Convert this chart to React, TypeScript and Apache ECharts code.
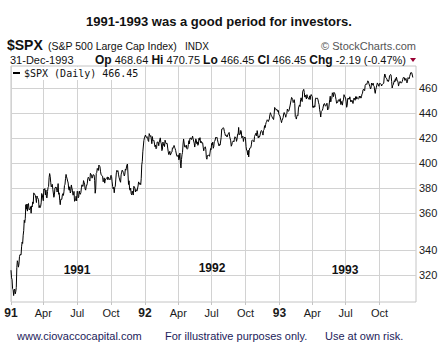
import React, { useEffect, useRef } from "react";
import * as echarts from "echarts";

// S&P 500 daily closes. Each row = one month, flat pairs of [day, close].
const spx1991: number[][] = [
  [2,326.45,3,321.91,4,321.00,7,315.44,8,314.90,9,311.49,10,314.53,11,315.23,14,312.49,15,313.73,16,316.17,17,327.97,18,332.23,21,331.06,22,328.31,23,330.21,24,334.78,25,336.07,28,336.03,29,335.84,30,340.91,31,343.93],
  [1,343.05,4,348.34,5,351.26,6,358.07,7,356.52,8,359.35,11,368.58,12,365.50,13,369.02,14,364.22,15,369.06,19,369.39,20,365.14,21,364.97,22,365.65,25,367.26,26,362.81,27,367.74,28,367.07],
  [1,370.47,4,369.33,5,376.72,6,376.17,7,375.91,8,374.95,11,372.96,12,370.03,13,374.57,14,373.50,15,373.59,18,372.11,19,366.59,20,367.92,21,366.58,22,367.48,25,369.83,26,376.30,27,375.35,28,375.22],
  [1,371.30,2,379.50,3,378.94,4,379.77,5,375.36,8,378.66,9,373.56,10,373.15,11,377.63,12,380.40,15,381.19,16,387.62,17,390.45,18,388.46,19,384.20,22,380.95,23,381.76,24,382.76,25,379.25,26,379.02,29,373.66,30,375.34],
  [1,380.29,2,380.52,3,380.80,6,380.08,7,377.32,8,378.51,9,383.25,10,375.74,13,376.76,14,371.62,15,368.57,16,372.19,17,372.39,20,372.28,21,375.35,22,376.19,23,374.96,24,377.49,28,381.94,29,382.79,30,386.96,31,389.83],
  [3,388.06,4,387.74,5,385.09,6,383.63,7,379.43,10,378.57,11,381.05,12,376.65,13,377.63,14,382.29,17,380.13,18,378.59,19,375.09,20,375.42,21,377.75,24,370.94,25,370.65,26,371.59,27,374.40,28,371.16],
  [1,377.92,2,377.47,3,373.33,5,374.08,8,377.94,9,376.11,10,375.74,11,376.97,12,380.25,15,382.39,16,381.54,17,381.18,18,385.37,19,384.22,22,382.88,23,379.42,24,378.64,25,380.96,26,380.93,29,383.15,30,386.69,31,387.81],
  [1,387.12,2,387.18,5,385.06,6,390.62,7,390.56,8,389.32,9,387.12,12,388.02,13,389.62,14,389.90,15,389.33,16,385.58,19,376.47,20,379.43,21,390.59,22,391.33,23,394.17,26,393.85,27,392.73,28,396.64,29,396.47,30,395.43],
  [3,392.15,4,389.97,5,389.14,6,389.10,9,388.57,10,384.56,11,385.09,12,387.34,13,383.59,16,385.78,17,385.50,18,386.94,19,387.56,20,387.92,23,385.92,24,387.71,25,386.88,26,386.49,27,385.90,30,387.86],
  [1,389.20,2,388.26,3,384.47,4,381.25,7,379.50,8,380.67,9,376.80,10,380.55,11,381.45,14,386.47,15,391.01,16,392.80,17,391.92,18,392.49,21,390.02,22,387.83,23,387.94,24,385.07,25,384.20,28,389.52,29,391.48,30,392.96,31,392.45],
  [1,391.32,4,390.28,5,388.71,6,389.97,7,393.72,8,392.89,11,393.12,12,396.74,13,397.41,14,397.15,15,382.62,18,385.24,19,379.42,20,378.53,21,380.06,22,376.14,25,375.34,26,377.96,27,376.55,29,375.22],
  [2,381.40,3,380.96,4,380.07,5,377.39,6,379.10,9,378.26,10,377.90,11,377.70,12,381.55,13,384.47,16,384.46,17,382.74,18,383.48,19,382.52,20,387.04,23,396.82,24,399.33,26,406.49,27,406.46,30,415.14,31,417.09],
];

const spx1992: number[][] = [
  [2,417.03,3,419.34,6,417.96,7,417.40,8,418.10,9,417.61,10,415.10,13,414.34,14,420.44,15,420.77,16,418.21,17,418.86,20,416.36,21,412.64,22,418.13,23,414.96,24,415.48,27,414.99,28,414.96,29,410.34,30,411.62,31,408.78],
  [3,409.53,4,413.85,5,413.84,6,413.82,7,411.09,10,413.77,11,413.76,12,417.13,13,413.69,14,412.48,18,407.38,19,408.26,20,413.90,21,411.43,24,412.27,25,410.45,26,415.35,27,413.86,28,412.70],
  [2,412.45,3,412.85,4,409.33,5,406.51,6,404.44,9,405.21,10,406.89,11,404.03,12,403.89,13,405.84,16,406.39,17,409.58,18,409.15,19,409.80,20,411.30,23,409.91,24,408.88,25,407.52,26,407.86,27,403.50,30,403.00,31,403.69],
  [1,404.23,2,400.50,3,401.55,6,405.59,7,398.06,8,394.50,9,400.64,10,404.29,13,406.08,14,412.39,15,416.28,16,416.04,20,410.18,21,410.26,22,410.13,23,411.60,24,409.02,27,408.45,28,409.11,29,412.02,30,414.95],
  [1,412.53,4,416.91,5,416.84,6,416.79,7,415.85,8,416.05,11,418.49,12,416.29,13,416.45,14,413.14,15,410.09,18,412.81,19,416.37,20,415.39,21,412.60,22,414.02,26,411.41,27,412.17,28,416.74,29,415.35],
  [1,417.30,2,413.50,3,414.59,4,413.26,5,413.48,8,413.36,9,410.06,10,407.25,11,409.05,12,409.76,15,410.29,16,408.32,17,402.26,18,400.96,19,403.67,22,403.40,23,404.04,24,403.84,25,403.12,26,403.45,29,408.94,30,408.14],
  [1,412.88,2,411.77,6,413.84,7,409.16,8,410.28,9,414.23,10,414.62,13,414.87,14,417.68,15,417.10,16,417.54,17,415.62,20,413.75,21,413.76,22,410.92,23,412.08,24,411.60,27,411.54,28,417.52,29,423.92,30,423.72,31,424.21],
  [3,425.09,4,424.36,5,422.19,6,420.59,7,418.88,10,419.42,11,418.90,12,417.78,13,417.73,14,419.91,17,420.74,18,421.34,19,418.19,20,418.26,21,414.85,24,410.72,25,411.61,26,413.51,27,413.53,28,414.80,31,414.03],
  [1,416.07,2,417.98,3,417.98,4,417.08,8,414.44,9,416.36,10,419.95,11,419.58,14,425.27,15,419.77,16,419.92,17,419.93,18,422.93,21,422.14,22,417.14,23,417.44,24,418.47,25,414.35,28,416.62,29,416.80,30,417.80],
  [1,416.29,2,410.47,5,407.57,6,407.18,7,404.25,8,407.75,9,402.66,12,407.44,13,409.30,14,409.37,15,409.60,16,411.73,19,414.98,20,415.48,21,415.67,22,414.90,23,414.09,26,418.16,27,418.49,28,420.13,29,420.86,30,418.68],
  [2,422.75,3,419.92,4,417.11,5,418.34,6,417.58,9,418.59,10,418.62,11,422.20,12,422.87,13,422.43,16,420.68,17,419.27,18,422.85,19,423.61,20,426.65,23,425.12,24,427.59,25,429.19,27,430.16,30,431.35],
  [1,430.78,2,429.89,3,429.98,4,432.06,7,435.31,8,436.99,9,435.65,10,434.64,11,433.73,14,432.84,15,432.57,16,431.52,17,435.43,18,441.28,21,440.70,22,440.31,23,439.03,24,439.77,28,439.15,29,437.98,30,438.82,31,435.71],
];

const spx1993: number[][] = [
  [4,435.38,5,434.34,6,434.52,7,430.73,8,429.05,11,430.95,12,431.04,13,433.03,14,435.94,15,437.15,18,436.84,19,435.13,20,433.37,21,435.49,22,436.11,25,440.01,26,439.95,27,438.11,28,438.66,29,438.78],
  [1,442.52,2,442.55,3,447.20,4,449.56,5,448.93,8,447.85,9,445.33,10,446.23,11,447.66,12,444.58,16,433.91,17,433.30,18,431.90,19,434.22,22,435.24,23,434.80,24,440.87,25,442.34,26,443.38],
  [1,442.01,2,447.90,3,449.26,4,447.34,5,446.11,8,454.71,9,454.40,10,456.33,11,453.72,12,449.83,15,451.43,16,451.37,17,448.31,18,451.89,19,450.18,22,448.88,23,448.76,24,448.07,25,450.88,26,447.78,29,450.77,30,451.97,31,451.67],
  [1,450.30,2,441.39,5,442.29,6,441.16,7,442.73,8,441.84,12,448.37,13,449.22,14,448.66,15,448.40,16,448.94,19,447.46,20,445.10,21,443.63,22,439.46,23,437.03,26,433.54,27,438.01,28,438.02,29,438.89,30,440.19],
  [3,442.46,4,444.05,5,444.52,6,443.26,7,442.31,10,442.80,11,444.36,12,444.80,13,439.23,14,439.56,17,440.37,18,440.32,19,447.57,20,450.59,21,445.84,24,448.00,25,448.85,26,453.44,27,452.41,28,450.19],
  [1,453.83,2,453.85,3,452.49,4,450.06,7,447.69,8,444.71,9,445.78,10,445.38,11,447.26,14,447.71,15,446.27,16,447.43,17,448.54,18,443.68,21,446.22,22,445.93,23,443.19,24,446.62,25,447.60,28,451.85,29,450.69,30,450.53],
  [1,449.02,2,445.84,6,441.43,7,442.83,8,448.64,9,448.11,12,448.98,13,448.09,14,450.08,15,447.73,16,445.75,19,446.03,20,447.31,21,447.18,22,444.51,23,447.10,26,449.09,27,448.24,28,447.19,29,450.24,30,448.13],
  [2,450.15,3,449.27,4,448.54,5,448.13,6,448.68,9,450.71,10,449.45,11,450.46,12,448.96,13,450.14,16,452.38,17,453.13,18,456.04,19,456.43,20,456.16,23,455.23,24,459.77,25,460.13,26,461.04,27,460.54,30,461.90,31,463.56],
  [1,463.15,2,461.30,3,461.34,7,458.52,8,456.65,9,457.50,10,461.72,13,462.06,14,459.90,15,461.60,16,459.43,17,458.83,20,455.05,21,452.95,22,456.20,23,457.74,24,457.63,27,461.80,28,461.84,29,460.11,30,458.93],
  [1,461.28,4,461.34,5,461.20,6,460.74,7,459.18,8,460.31,11,460.88,12,461.12,13,461.49,14,466.83,15,469.50,18,468.45,19,466.21,20,466.07,21,465.36,22,463.27,25,464.20,26,463.02,27,464.61,28,467.72,29,467.83],
  [1,469.10,2,468.44,3,463.02,4,457.49,5,459.57,8,460.21,9,460.33,10,463.72,11,462.64,12,465.39,15,463.75,16,466.74,17,464.81,18,463.62,19,462.60,22,459.13,23,461.03,24,462.36,26,463.06,29,461.90,30,461.79],
  [1,461.89,2,463.11,3,464.89,6,466.43,7,466.76,8,466.29,9,463.93,10,463.93,13,465.70,14,463.06,15,461.84,16,463.34,17,466.38,20,465.85,21,465.30,22,467.32,23,467.38,27,470.61,28,470.94,29,470.58,30,468.64,31,466.45],
];

const yearData: [number, number[][]][] = [[1991, spx1991], [1992, spx1992], [1993, spx1993]];
const yTicks = [320, 340, 360, 380, 400, 420, 440, 460];
const yMin = 307.8;
const yMax = 476.5;
const monthNames = ["Jan", "Feb", "Mar", "Apr", "May", "Jun", "Jul", "Aug", "Sep", "Oct", "Nov", "Dec"];
const quarterMonths = [1, 4, 7, 10];
const yearNotes = ["1991", "1992", "1993"];
const titleText = "1991-1993 was a good period for investors.";
const headerQuote = { op: "468.64", hi: "470.75", lo: "466.45", cl: "466.45", chg: "-2.19 (-0.47%)" };
const legendText = "$SPX (Daily) 466.45";
const footerTexts = ["www.ciovaccocapital.com", "For illustrative purposes only.", "Use at own risk."];

const FONT = '"Liberation Sans", Arial, sans-serif';

function pad2(n: number) {
  return n < 10 ? "0" + n : String(n);
}

export default function App() {
  const ref = useRef<HTMLDivElement>(null);

  useEffect(() => {
    if (!ref.current) return;
    const chart = echarts.init(ref.current, null, { renderer: "svg" });

    const dates: string[] = [];
    const closes: (number | null)[] = [];
    yearData.forEach(([yr, rows]) => {
      rows.forEach((row, m) => {
        for (let i = 0; i < row.length; i += 2) {
          dates.push(`${yr}-${pad2(m + 1)}-${pad2(row[i])}`);
          closes.push(row[i + 1]);
        }
      });
    });
    const nReal = dates.length;
    const cats = dates.slice();
    for (let i = 0; i < 6; i++) {
      cats.push("pad" + i);
      closes.push(null);
    }
    const monthOf = (i: number) => parseInt(dates[i].slice(5, 7), 10);
    const isQuarterStart = (i: number) => {
      if (i >= nReal) return false;
      const m = monthOf(i);
      if (quarterMonths.indexOf(m) < 0) return false;
      return i === 0 || monthOf(i - 1) !== m;
    };

    const gridColor = "#d2d2d2";
    const textColor = "#1a1a1a";
    const navy = "#1c1c5a";

    chart.setOption({
      animation: false,
      backgroundColor: "#ffffff",
      grid: {
        left: 11,
        right: 28,
        top: 66,
        bottom: 57,
        show: true,
        borderColor: "#c4c4c4",
        borderWidth: 1,
        backgroundColor: "#ffffff",
      },
      xAxis: {
        type: "category",
        data: cats,
        boundaryGap: false,
        axisLine: { show: false },
        axisTick: {
          show: true,
          interval: (i: number) => isQuarterStart(i),
          length: 3,
          lineStyle: { color: "#c4c4c4" },
        },
        axisLabel: {
          interval: (i: number) => isQuarterStart(i),
          margin: 5,
          color: textColor,
          fontSize: 11,
          fontFamily: FONT,
          formatter: (v: string) => {
            const m = parseInt(v.slice(5, 7), 10);
            if (m === 1) return "{b|" + v.slice(2, 4) + "}";
            return monthNames[m - 1];
          },
          rich: {
            b: { fontWeight: "bold", fontSize: 12, fontFamily: FONT, color: textColor },
          },
        },
        splitLine: {
          show: true,
          interval: (i: number) => isQuarterStart(i),
          lineStyle: { color: gridColor, width: 1 },
        },
      },
      yAxis: {
        type: "value",
        min: Math.log10(yMin),
        max: Math.log10(yMax),
        show: false,
      },
      series: [
        {
          type: "line",
          data: closes.map((v) => (v == null ? null : Math.log10(v))),
          showSymbol: false,
          symbol: "none",
          z: 3,
          lineStyle: { color: "#000000", width: 1 },
          itemStyle: { color: "#000000" },
          markLine: {
            silent: true,
            z: 1,
            symbol: ["none", "none"],
            lineStyle: { color: gridColor, type: "solid", width: 1 },
            label: {
              show: true,
              position: "end",
              formatter: "{b}",
              color: textColor,
              fontSize: 11,
              fontFamily: FONT,
              distance: 3,
            },
            emphasis: { disabled: true },
            data: yTicks.map((v) => ({ name: String(v), yAxis: Math.log10(v) })),
          },
        },
      ],
      graphic: [
        {
          type: "text",
          z: 10,
          style: { x: 219, y: 21, text: titleText, font: `bold 13px ${FONT}`, fill: "#111111", align: "center", verticalAlign: "middle" },
        },
        {
          type: "text",
          z: 10,
          style: { x: 7, y: 45, text: "$SPX", font: `bold 14px ${FONT}`, fill: "#111111", verticalAlign: "middle" },
        },
        {
          type: "text",
          z: 10,
          style: { x: 48, y: 46, text: "(S&P 500 Large Cap Index)", font: `10.5px ${FONT}`, fill: "#111111", verticalAlign: "middle" },
        },
        {
          type: "text",
          z: 10,
          style: { x: 185, y: 46, text: "INDX", font: `10px ${FONT}`, fill: "#111111", verticalAlign: "middle" },
        },
        {
          type: "text",
          z: 10,
          style: { x: 416, y: 46, text: "© StockCharts.com", font: `11px ${FONT}`, fill: "#555555", align: "right", verticalAlign: "middle" },
        },
        {
          type: "text",
          z: 10,
          style: { x: 10, y: 60, text: "31-Dec-1993", font: `11px ${FONT}`, fill: "#111111", verticalAlign: "middle" },
        },
        {
          type: "text",
          z: 10,
          style: {
            x: 406,
            y: 60,
            align: "right",
            verticalAlign: "middle",
            font: `11px ${FONT}`,
            fill: "#111111",
            text: `{b|Op} {n|${headerQuote.op}} {b|Hi} {n|${headerQuote.hi}} {b|Lo} {n|${headerQuote.lo}} {b|Cl} {n|${headerQuote.cl}} {b|Chg} {n|${headerQuote.chg}}`,
            rich: {
              b: { font: `bold 12px ${FONT}`, fill: "#111111" },
              n: { font: `11px ${FONT}`, fill: "#111111" },
            },
          },
        },
        {
          type: "polygon",
          z: 10,
          shape: { points: [[410, 58], [416, 58], [413, 62]] },
          style: { fill: "#990033" },
        },
        {
          type: "rect",
          z: 10,
          shape: { x: 12, y: 67, width: 131, height: 13 },
          style: { fill: "#ffffff" },
        },
        {
          type: "rect",
          z: 11,
          shape: { x: 13, y: 72, width: 7, height: 2 },
          style: { fill: "#000000" },
        },
        {
          type: "text",
          z: 11,
          style: { x: 24, y: 73, text: legendText, font: `10px "DejaVu Sans Mono", monospace`, fill: "#111111", verticalAlign: "middle" },
        },
        {
          type: "text",
          z: 10,
          style: { x: 77, y: 270, text: yearNotes[0], font: `bold 12px ${FONT}`, fill: "#111111", align: "center", verticalAlign: "middle" },
        },
        {
          type: "text",
          z: 10,
          style: { x: 212, y: 268, text: yearNotes[1], font: `bold 12px ${FONT}`, fill: "#111111", align: "center", verticalAlign: "middle" },
        },
        {
          type: "text",
          z: 10,
          style: { x: 345, y: 270, text: yearNotes[2], font: `bold 12px ${FONT}`, fill: "#111111", align: "center", verticalAlign: "middle" },
        },
        {
          type: "text",
          z: 10,
          style: { x: 17, y: 336, text: footerTexts[0], font: `11px ${FONT}`, fill: navy, verticalAlign: "middle" },
        },
        {
          type: "text",
          z: 10,
          style: { x: 165, y: 336, text: footerTexts[1], font: `11px ${FONT}`, fill: navy, verticalAlign: "middle" },
        },
        {
          type: "text",
          z: 10,
          style: { x: 325, y: 336, text: footerTexts[2], font: `11px ${FONT}`, fill: navy, verticalAlign: "middle" },
        },
      ],
    });

    return () => chart.dispose();
  }, []);

  return (
    <div
      ref={ref}
      style={{ position: "absolute", left: 0, top: 0, width: 444, height: 359, background: "#ffffff" }}
    />
  );
}
